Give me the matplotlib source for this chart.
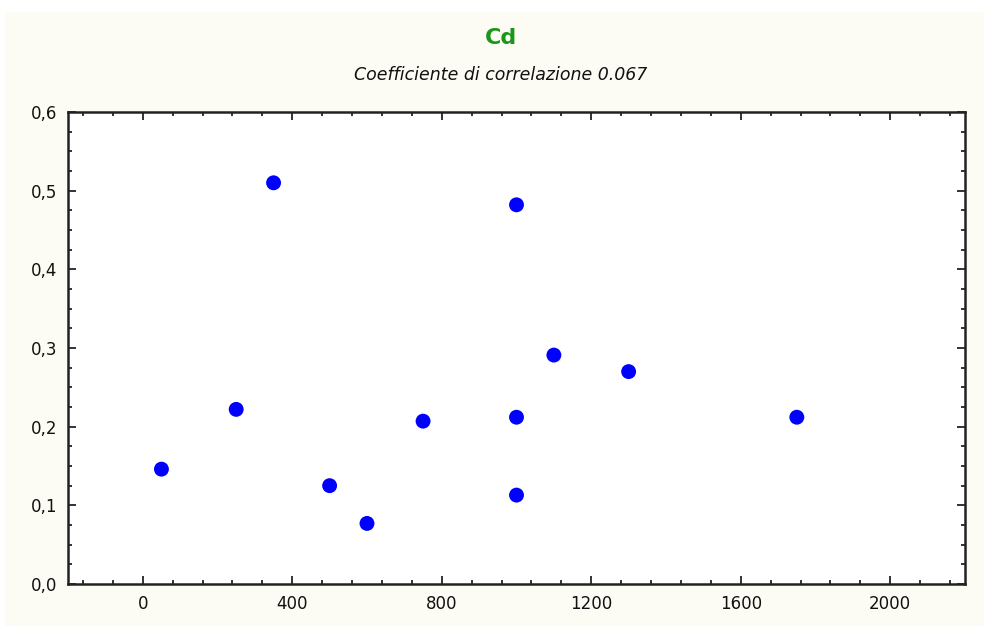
import matplotlib

matplotlib.use("Agg")
import matplotlib.pyplot as plt
from matplotlib.patches import Rectangle
from matplotlib.ticker import FuncFormatter, MultipleLocator

# Cd concentration vs. x
x_vals = [50, 250, 350, 500, 600, 750, 1000, 1000, 1000, 1100, 1300, 1750]
cd_vals = [0.146, 0.222, 0.510, 0.125, 0.077, 0.207, 0.482, 0.212, 0.113, 0.291, 0.270, 0.212]

title = "Cd"
subtitle = "Coefficiente di correlazione 0.067"
x_ticks = [0, 400, 800, 1200, 1600, 2000]
y_ticks = [0.0, 0.1, 0.2, 0.3, 0.4, 0.5, 0.6]


def main() -> None:
    plt.rcParams["font.family"] = "DejaVu Sans"
    fig = plt.figure(figsize=(9.84, 6.26), dpi=100, facecolor="white")
    fig.patches.append(
        Rectangle((5 / 984, 0), 1, (626 - 12) / 626, transform=fig.transFigure,
                  facecolor="#fcfcf4", edgecolor="none", zorder=-10)
    )

    ax = fig.add_axes([68 / 984, 42 / 626, (965 - 68) / 984, (584 - 112) / 626])
    ax.set_facecolor("white")
    ax.scatter(x_vals, cd_vals, s=115, color="#0000ff", edgecolors="none", zorder=3)

    ax.set_xlim(-200, 2200)
    ax.set_ylim(0.0, 0.6)
    ax.set_xticks(x_ticks)
    ax.set_yticks(y_ticks)
    ax.xaxis.set_minor_locator(MultipleLocator(80))
    ax.yaxis.set_minor_locator(MultipleLocator(0.025))
    ax.yaxis.set_major_formatter(FuncFormatter(lambda v, _: f"{v:.1f}".replace(".", ",")))

    ax.tick_params(which="both", direction="in", top=True, right=True, colors="#111111",
                   labelsize=12, width=1.2)
    ax.tick_params(which="major", length=6, pad=8)
    ax.tick_params(which="minor", length=3)
    for side in ax.spines.values():
        side.set_linewidth(1.8)
        side.set_color("#222222")

    fig.text(501 / 984, 1 - 38 / 626, title, color="#1a961a", fontsize=16,
             fontweight="bold", ha="center", va="center")
    fig.text(501 / 984, 1 - 75 / 626, subtitle, color="#111111", fontsize=12.5,
             style="italic", ha="center", va="center")

    fig.savefig("out.png", dpi=100, facecolor=fig.get_facecolor())


if __name__ == "__main__":
    main()
